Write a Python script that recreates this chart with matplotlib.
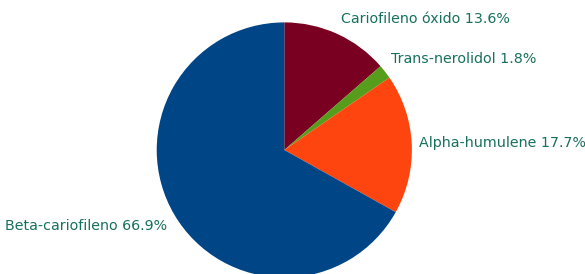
import matplotlib
matplotlib.use("Agg")
import matplotlib.pyplot as plt

labels = ["Cariofileno óxido", "Trans-nerolidol", "Alpha-humulene", "Beta-cariofileno"]
values = [13.6, 1.8, 17.7, 66.9]
colors = ["#7a0022", "#579d1c", "#ff450f", "#004586"]

# label anchor positions (pie radius units) and alignment
label_pos = [(0.444, 1.027, "left"), (0.836, 0.713, "left"), (1.056, 0.055, "left"), (-0.919, -0.596, "right")]
text_color = "#17705e"

fig = plt.figure(figsize=(5.85, 2.74), dpi=100)
ax = fig.add_axes([0.2679, -0.0131, 0.4362, 0.9314])
ax.pie(values, colors=colors, startangle=90, counterclock=False, radius=1,
       wedgeprops=dict(linewidth=0))
ax.set_xlim(-1, 1)
ax.set_ylim(-1, 1)
ax.axis("off")

for name, val, (x, y, ha) in zip(labels, values, label_pos):
    ax.text(x, y, f"{name} {val:.1f}%", ha=ha, va="center", fontsize=10.25,
            color=text_color, clip_on=False)

fig.savefig("out.png", dpi=100)
